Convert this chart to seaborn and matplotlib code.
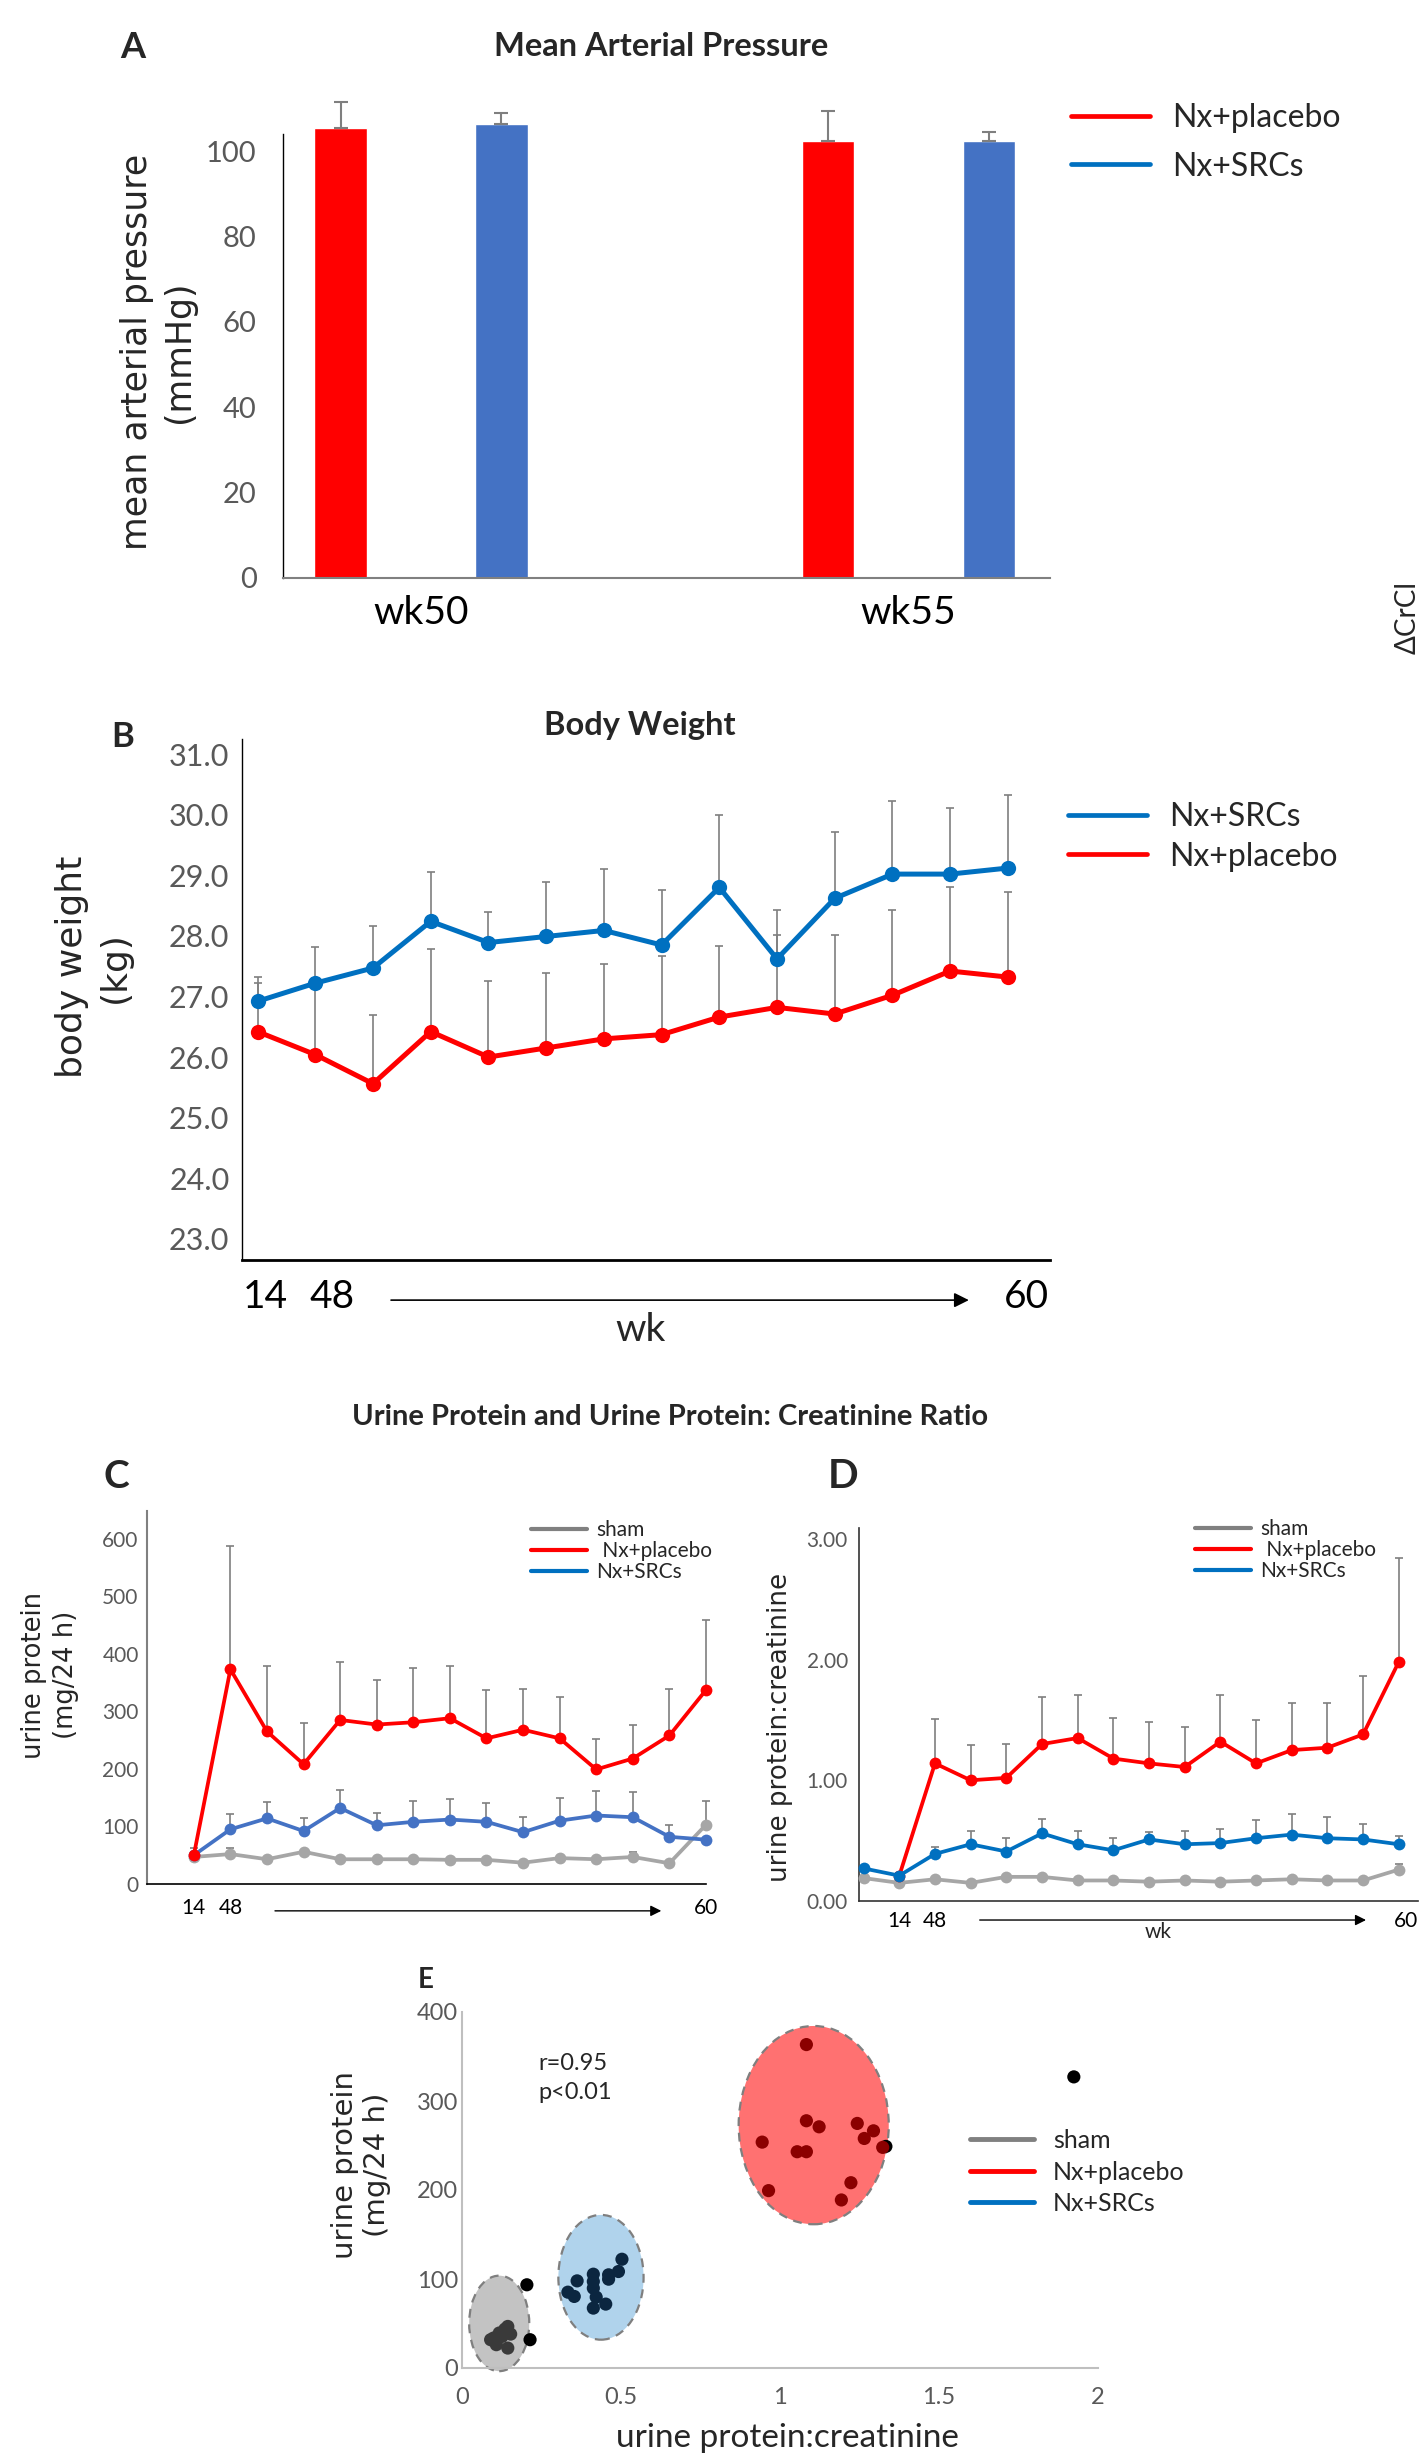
import numpy as np
import pandas as pd
import matplotlib
matplotlib.use("Agg")
import matplotlib.pyplot as plt
import seaborn as sns
from matplotlib.lines import Line2D
from matplotlib.patches import Ellipse

# A: mean arterial pressure (mean, upper SD)
map_weeks = ["wk50", "wk55"]
map_placebo = [105.4, 102.3]
map_placebo_sd = [6.1, 7.2]
map_srcs = [106.4, 102.3]
map_srcs_sd = [2.5, 2.1]

# B: body weight, 14 visits from wk14 to wk60
bw_srcs = [26.92, 27.22, 27.47, 28.24, 27.89, 27.99, 28.09, 27.85, 28.80, 27.62, 28.62, 29.02, 29.02, 29.12]
bw_srcs_sd = [0.40, 0.59, 0.69, 0.81, 0.50, 0.90, 1.01, 0.91, 1.19, 0.80, 1.10, 1.21, 1.09, 1.20]
bw_placebo = [26.42, 26.04, 25.56, 26.42, 26.00, 26.15, 26.30, 26.37, 26.66, 26.82, 26.71, 27.02, 27.42, 27.32]
bw_placebo_sd = [0.80, 1.16, 1.13, 1.37, 1.25, 1.23, 1.23, 1.30, 1.18, 1.19, 1.30, 1.40, 1.39, 1.40]

# C: urine protein (mg/24 h), 15 visits
up_sham = [47, 52, 43, 56, 43, 43, 43, 42, 42, 37, 45, 43, 47, 36, 103]
up_sham_sd = [3, 10, 3, 3, 2, 2, 4, 2, 2, 2, 2, 2, 8, 2, 41]
up_placebo = [50, 373, 265, 208, 285, 277, 281, 288, 253, 268, 253, 199, 218, 258, 337]
up_placebo_sd = [13, 214, 114, 71, 100, 78, 95, 91, 84, 71, 72, 53, 58, 80, 122]
up_srcs = [50, 95, 114, 92, 132, 102, 108, 112, 108, 90, 110, 119, 116, 82, 77]
up_srcs_sd = [5, 26, 28, 23, 31, 21, 36, 35, 33, 27, 40, 42, 43, 21, 3]

# D: urine protein:creatinine, 16 visits (placebo starts at the 2nd)
upcr_sham = [0.19, 0.15, 0.18, 0.15, 0.20, 0.20, 0.17, 0.17, 0.16, 0.17, 0.16, 0.17, 0.18, 0.17, 0.17, 0.26]
upcr_sham_sd = [0.01, 0.01, 0.01, 0.01, 0.01, 0.01, 0.01, 0.01, 0.01, 0.01, 0.01, 0.01, 0.01, 0.01, 0.01, 0.05]
upcr_placebo = [np.nan, 0.21, 1.14, 1.00, 1.02, 1.30, 1.35, 1.18, 1.14, 1.11, 1.32, 1.14, 1.25, 1.27, 1.38, 1.98]
upcr_placebo_sd = [np.nan, 0.0, 0.37, 0.29, 0.28, 0.39, 0.36, 0.34, 0.34, 0.33, 0.39, 0.36, 0.39, 0.37, 0.48, 0.86]
upcr_srcs = [0.27, 0.21, 0.39, 0.47, 0.41, 0.56, 0.47, 0.42, 0.51, 0.47, 0.48, 0.52, 0.55, 0.52, 0.51, 0.47]
upcr_srcs_sd = [0.02, 0.02, 0.06, 0.11, 0.11, 0.12, 0.11, 0.10, 0.06, 0.11, 0.12, 0.15, 0.17, 0.18, 0.13, 0.07]

# E: urine protein vs urine protein:creatinine
sham_x = [0.099, 0.117, 0.135, 0.144, 0.126, 0.108, 0.144, 0.153, 0.090]
sham_y = [33.6, 39.3, 43.7, 46.7, 35.5, 26.2, 22.4, 38.1, 31.8]
placebo_x = [1.083, 1.083, 1.123, 1.243, 1.294, 1.265, 1.323, 0.944, 1.054, 1.083, 1.223, 0.964, 1.193]
placebo_y = [363.4, 277.8, 271.0, 274.8, 266.5, 257.9, 247.9, 253.8, 243.0, 243.0, 208.2, 199.3, 188.8]
srcs_x = [0.503, 0.492, 0.461, 0.461, 0.413, 0.413, 0.413, 0.362, 0.333, 0.353, 0.422, 0.452, 0.413]
srcs_y = [122.2, 108.4, 104.7, 99.8, 105.4, 97.2, 89.7, 97.9, 85.2, 80.4, 79.6, 71.8, 67.3]
other_x = [0.204, 0.214, 1.333, 1.924]
other_y = [93.5, 31.8, 249.0, 327.1]
ell_x = [0.117, 0.437, 1.106]
ell_y = [50.1, 101.9, 272.9]
ell_w = [0.189, 0.268, 0.472]
ell_h = [107.3, 140.2, 222.8]

RED = "#ff0000"
BLUE = "#0070c0"
BLUE_C = "#4472c4"
GRAY = "#a6a6a6"
ERR = "#7f7f7f"
TICK = "#595959"
W, H = 1422, 2455

sns.set_theme(style="white")
plt.rcParams["font.family"] = ["Lato", "DejaVu Sans"]
fig = plt.figure(figsize=(W / 100, H / 100), dpi=100)


def long_df(series):
    rows = []
    for name, vals in series.items():
        for i, v in enumerate(vals):
            if not np.isnan(v):
                rows.append({"idx": i, "value": v, "group": name})
    return pd.DataFrame(rows)


def up_err(ax, mean, sd, cap=3, lw=1.2):
    m = np.array(mean, float)
    s = np.array(sd, float)
    x = np.arange(len(m))
    ok = ~np.isnan(m)
    eb = ax.errorbar(x[ok], m[ok], yerr=[np.zeros(ok.sum()), s[ok]], fmt="none",
                     ecolor=ERR, elinewidth=lw, capsize=cap, capthick=lw, zorder=2)
    for art in list(eb.lines[1]) + list(eb.lines[2]):
        art.set_clip_on(False)


def add_key(labels, colors, size, left, top, hlen, pad, spacing, lw):
    hs = [Line2D([], [], color=c, lw=lw) for c in colors]
    fig.legend(hs, labels, loc="upper left", bbox_to_anchor=(left / W, 1 - top / H),
               frameon=False, fontsize=size, handlelength=hlen, handletextpad=pad,
               labelspacing=spacing, borderpad=0, borderaxespad=0)


def style(ax, ysize, xsize, ypad, xpad):
    ax.tick_params(axis="y", length=0, labelsize=ysize, labelcolor=TICK, pad=ypad)
    ax.tick_params(axis="x", length=0, labelsize=xsize, labelcolor="black", pad=xpad)
    sns.despine(ax=ax)


# ---------------- A ----------------
axA = fig.add_axes([283 / W, 1 - 578 / H, 767 / W, 444 / H])
dfA = pd.DataFrame({"week": map_weeks * 2,
                    "group": ["Nx+placebo"] * 2 + ["Nx+SRCs"] * 2,
                    "map": map_placebo + map_srcs})
sns.barplot(data=dfA, x="week", y="map", hue="group", hue_order=["Nx+placebo", "Nx+SRCs"],
            palette=[RED, BLUE_C], saturation=1, width=0.66, gap=0.675,
            errorbar=None, legend=False, ax=axA)
for cont, sd in zip(axA.containers, [map_placebo_sd, map_srcs_sd]):
    xs = [b.get_x() + b.get_width() / 2 for b in cont]
    ys = [b.get_height() for b in cont]
    for b in cont:
        b.set_clip_on(False)
    eb = axA.errorbar(xs, ys, yerr=[np.zeros(len(sd)), sd], fmt="none", ecolor=ERR,
                      elinewidth=1.5, capsize=5, capthick=1.5)
    for art in list(eb.lines[1]) + list(eb.lines[2]):
        art.set_clip_on(False)
axA.set_xlim(-0.283, 1.29)
axA.set_ylim(0, 104)
axA.set_yticks(range(0, 101, 20))
axA.set_xlabel("")
axA.set_ylabel("mean arterial pressure\n(mmHg)", fontsize=25, family="DejaVu Sans",
               linespacing=1.3, va="center")
axA.yaxis.set_label_coords(-0.163, 0.509)
style(axA, 21, 28, 19, 12)
axA.spines["left"].set_color("black")
axA.spines["left"].set_linewidth(1)
axA.spines["bottom"].set_color("#808080")
axA.spines["bottom"].set_linewidth(1.5)
fig.text(661 / W, 1 - 47 / H, "Mean Arterial Pressure", fontsize=23.5, weight="bold",
         ha="center", va="center")
fig.text(133 / W, 1 - 47 / H, "A", fontsize=26, weight="bold", ha="center", va="center")
fig.text(1408 / W, 1 - 617 / H, "ΔCrCl", fontsize=20, rotation=90, ha="center", va="center")
add_key(["Nx+placebo", "Nx+SRCs"], [RED, BLUE], 23, 1071, 103, 2.47, 0.7, 0.58, 3.4)

# ---------------- B ----------------
axB = fig.add_axes([242 / W, 1 - 1260 / H, 808 / W, 521 / H])
up_err(axB, bw_srcs, bw_srcs_sd)
up_err(axB, bw_placebo, bw_placebo_sd)
dfB = long_df({"Nx+SRCs": bw_srcs, "Nx+placebo": bw_placebo})
sns.lineplot(data=dfB, x="idx", y="value", hue="group", hue_order=["Nx+SRCs", "Nx+placebo"],
             palette=[BLUE, RED], marker="o", markersize=11, markeredgewidth=0,
             linewidth=3.6, errorbar=None, legend=False, ax=axB, zorder=3, clip_on=False)
axB.set_xlim(-0.27, 13.73)
axB.set_ylim(22.65, 31.25)
axB.set_yticks(range(23, 32))
axB.set_yticklabels([f"{v:.1f}" for v in range(23, 32)])
axB.set_xticks([0.13, 1.29, 13.32])
axB.set_xticklabels(["14", "48", "60"])
axB.set_xlabel("")
axB.set_ylabel("body weight\n(kg)", fontsize=26, family="DejaVu Sans", linespacing=1.3,
               va="center")
axB.yaxis.set_label_coords(-0.184, 0.562)
style(axB, 22, 28, 9, 14)
for s in ["left", "bottom"]:
    axB.spines[s].set_color("black")
axB.spines["left"].set_linewidth(1)
axB.spines["bottom"].set_linewidth(2)
axB.annotate("", xy=(0.903, -0.077), xytext=(0.181, -0.077), xycoords="axes fraction",
             arrowprops=dict(arrowstyle="-|>", color="black", lw=1.2, mutation_scale=22),
             annotation_clip=False)
axB.text(0.493, -0.134, "wk", transform=axB.transAxes, ha="center", va="center", fontsize=28)
fig.text(640 / W, 1 - 725 / H, "Body Weight", fontsize=23.5, weight="bold", ha="center",
         va="center")
fig.text(123 / W, 1 - 737 / H, "B", fontsize=25, weight="bold", ha="center", va="center")
add_key(["Nx+SRCs", "Nx+placebo"], [BLUE, RED], 23, 1068, 802, 2.47, 0.7, 0.3, 3.4)

# ---------------- C ----------------
fig.text(670 / W, 1 - 1417 / H, "Urine Protein and Urine Protein: Creatinine Ratio",
         fontsize=21, weight="bold", ha="center", va="center")
axC = fig.add_axes([147 / W, 1 - 1884 / H, 559 / W, 373 / H])
up_err(axC, up_sham, up_sham_sd)
up_err(axC, up_srcs, up_srcs_sd)
up_err(axC, up_placebo, up_placebo_sd)
dfC = long_df({"sham": up_sham, "Nx+SRCs": up_srcs, "Nx+placebo": up_placebo})
sns.lineplot(data=dfC, x="idx", y="value", hue="group",
             hue_order=["sham", "Nx+SRCs", "Nx+placebo"], palette=[GRAY, BLUE_C, RED],
             marker="o", markersize=8.5, markeredgewidth=0, linewidth=2.7,
             errorbar=None, legend=False, ax=axC, zorder=3, clip_on=False)
axC.set_xlim(-1.28, 14)
axC.set_ylim(0, 648)
axC.set_yticks(range(0, 601, 100))
axC.set_xticks([0, 1, 14])
axC.set_xticklabels(["14", "48", "60"])
axC.set_xlabel("")
axC.set_ylabel("urine protein\n(mg/24 h)", fontsize=18.6, family="DejaVu Sans",
               linespacing=1.3, va="center")
axC.yaxis.set_label_coords(-0.174, 0.56)
style(axC, 15, 15, 6, 10)
axC.spines["left"].set_color("#808080")
axC.spines["left"].set_linewidth(1.5)
axC.spines["bottom"].set_color("black")
axC.spines["bottom"].set_linewidth(1.2)
axC.annotate("", xy=(0.925, -0.072), xytext=(0.224, -0.072), xycoords="axes fraction",
             arrowprops=dict(arrowstyle="-|>", color="black", lw=1, mutation_scale=16),
             annotation_clip=False)
fig.text(116 / W, 1 - 1477 / H, "C", fontsize=28, weight="bold", ha="center", va="center")
add_key(["sham", " Nx+placebo", "Nx+SRCs"], ["#808080", RED, BLUE], 15, 531, 1520,
        2.7, 0.45, 0.05, 3)

# ---------------- D ----------------
axD = fig.add_axes([859 / W, 1 - 1901 / H, 559 / W, 373 / H])
up_err(axD, upcr_sham, upcr_sham_sd)
up_err(axD, upcr_srcs, upcr_srcs_sd)
up_err(axD, upcr_placebo, upcr_placebo_sd)
dfD = long_df({"sham": upcr_sham, "Nx+SRCs": upcr_srcs, "Nx+placebo": upcr_placebo})
sns.lineplot(data=dfD, x="idx", y="value", hue="group",
             hue_order=["sham", "Nx+placebo", "Nx+SRCs"], palette=[GRAY, RED, BLUE],
             marker="o", markersize=8.5, markeredgewidth=0, linewidth=2.7,
             errorbar=None, legend=False, ax=axD, zorder=3, clip_on=False)
axD.set_xlim(-0.13, 15.54)
axD.set_ylim(0, 3.09)
axD.set_yticks([0, 1, 2, 3])
axD.set_yticklabels([f"{v:.2f}" for v in [0, 1, 2, 3]])
axD.set_xticks([1, 2, 15.2])
axD.set_xticklabels(["14", "48", "60"])
axD.set_xlabel("")
axD.set_ylabel("urine protein:creatinine", fontsize=18.8, family="DejaVu Sans", va="center")
axD.yaxis.set_label_coords(-0.141, 0.464)
style(axD, 15, 15, 8, 7)
for s in ["left", "bottom"]:
    axD.spines[s].set_color("#333333")
    axD.spines[s].set_linewidth(1.2)
axD.annotate("", xy=(0.912, -0.051), xytext=(0.211, -0.051), xycoords="axes fraction",
             arrowprops=dict(arrowstyle="-|>", color="black", lw=1, mutation_scale=16),
             annotation_clip=False)
axD.text(0.535, -0.083, "wk", transform=axD.transAxes, ha="center", va="center", fontsize=15)
fig.text(843 / W, 1 - 1476 / H, "D", fontsize=29, weight="bold", ha="center", va="center")
add_key(["sham", " Nx+placebo", "Nx+SRCs"], ["#808080", RED, BLUE], 15, 1195, 1519,
        2.7, 0.45, 0.05, 3)

# ---------------- E ----------------
axE = fig.add_axes([462 / W, 1 - 2368 / H, 636 / W, 356 / H])
for cx, cy, ew, eh, fc in zip(ell_x, ell_y, ell_w, ell_h, ["#c3c3c3", "#b0d3ec", "#ff7171"]):
    axE.add_patch(Ellipse((cx, cy), ew, eh, facecolor=fc, edgecolor=ERR, ls=(0, (4, 3)),
                          lw=1.6, zorder=1, clip_on=False))
dfE = pd.concat([
    pd.DataFrame({"upcr": other_x, "up": other_y, "group": "other"}),
    pd.DataFrame({"upcr": sham_x, "up": sham_y, "group": "sham"}),
    pd.DataFrame({"upcr": srcs_x, "up": srcs_y, "group": "srcs"}),
    pd.DataFrame({"upcr": placebo_x, "up": placebo_y, "group": "placebo"}),
])
sns.scatterplot(data=dfE, x="upcr", y="up", hue="group",
                palette={"other": "black", "sham": "#3a3a3a", "srcs": "#0b2640",
                         "placebo": "#8b0000"},
                s=90, linewidth=0, legend=False, ax=axE, zorder=3)
axE.set_xlim(0, 2)
axE.set_ylim(0, 400)
axE.set_xticks([0, 0.5, 1, 1.5, 2])
axE.set_xticklabels(["0", "0.5", "1", "1.5", "2"])
axE.set_yticks(range(0, 401, 100))
axE.set_xlabel("urine protein:creatinine", fontsize=24, va="center")
axE.xaxis.set_label_coords(0.511, -0.197)
axE.set_ylabel("urine protein\n(mg/24 h)", fontsize=21, family="DejaVu Sans",
               linespacing=1.15, va="center")
axE.yaxis.set_label_coords(-0.159, 0.57)
style(axE, 17, 17, 3, 14)
axE.tick_params(axis="x", labelcolor=TICK)
for s in ["left", "bottom"]:
    axE.spines[s].set_color("#bfbfbf")
    axE.spines[s].set_linewidth(1.5)
axE.text(0.24, 326, "r=0.95\np<0.01", fontsize=17, ha="left", va="center", linespacing=1.5)
fig.text(426 / W, 1 - 1980 / H, "E", fontsize=20, weight="bold", ha="center", va="center")
add_key(["sham", "Nx+placebo", "Nx+SRCs"], ["#808080", RED, BLUE], 18, 970, 2129,
        2.56, 0.76, 0.34, 3.5)

fig.savefig("out.png", dpi=100, facecolor="white")
